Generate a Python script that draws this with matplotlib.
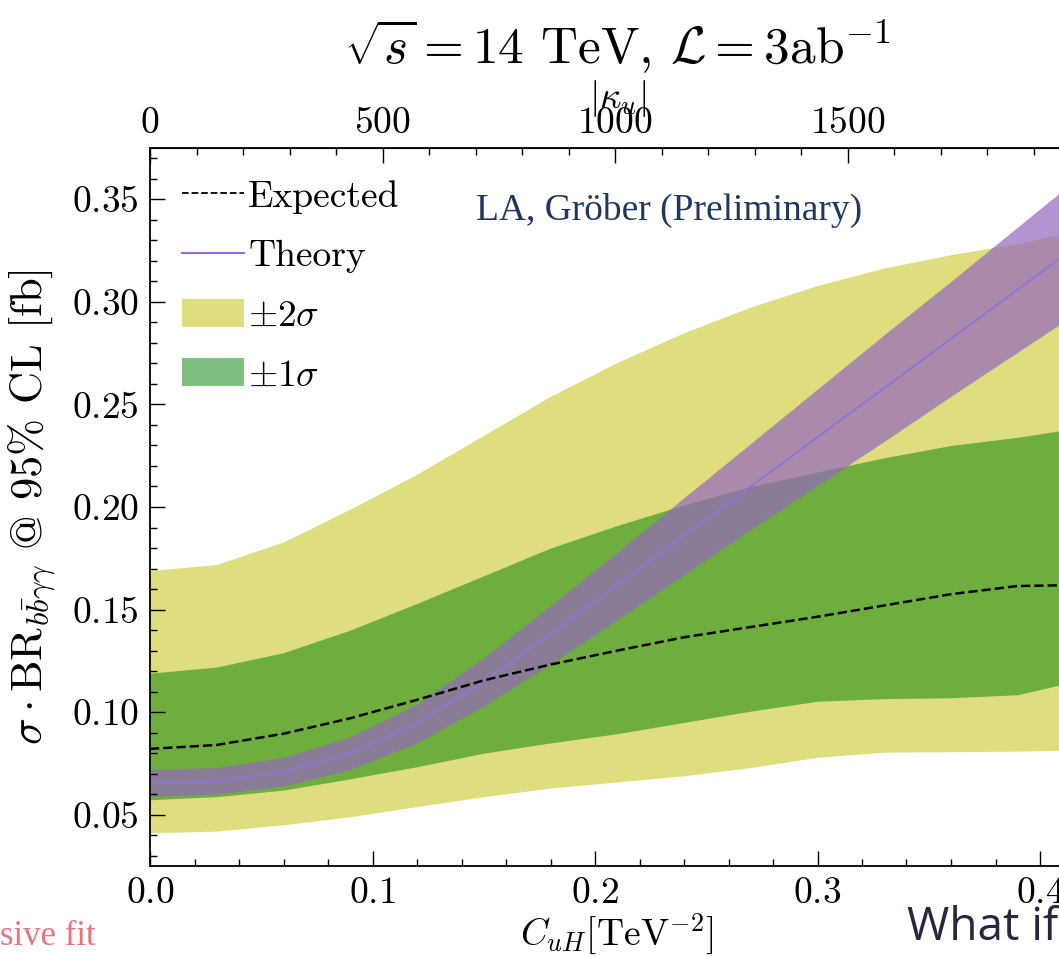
import numpy as np
import matplotlib
matplotlib.use('Agg')
import matplotlib.pyplot as plt
from matplotlib.patches import Patch
from matplotlib.lines import Line2D
from matplotlib.ticker import MultipleLocator, FixedLocator

# Wilson coefficient grid
c_uh = [0.00, 0.03, 0.06, 0.09, 0.12, 0.15, 0.18, 0.21, 0.24, 0.27, 0.30, 0.33, 0.36, 0.39, 0.42]

# Expected limit and bands
expected = [0.0821, 0.0840, 0.0895, 0.0970, 0.1060, 0.1155, 0.1232, 0.1300, 0.1365, 0.1415,
            0.1465, 0.1520, 0.1575, 0.1615, 0.1620]
one_sig_lo = [0.0573, 0.0588, 0.0620, 0.0675, 0.0734, 0.0800, 0.0850, 0.0895, 0.0950, 0.1005,
              0.1053, 0.1066, 0.1070, 0.1085, 0.1160]
one_sig_hi = [0.1190, 0.1220, 0.1290, 0.1400, 0.1530, 0.1665, 0.1800, 0.1910, 0.2010, 0.2100,
              0.2170, 0.2240, 0.2300, 0.2340, 0.2390]
two_sig_lo = [0.0412, 0.0420, 0.0451, 0.0490, 0.0540, 0.0588, 0.0630, 0.0660, 0.0690, 0.0730,
              0.0780, 0.0805, 0.0807, 0.0810, 0.0815]
two_sig_hi = [0.1690, 0.1720, 0.1830, 0.1990, 0.2160, 0.2350, 0.2540, 0.2705, 0.2850, 0.2975,
              0.3080, 0.3165, 0.3230, 0.3285, 0.3355]

# Theory prediction with its uncertainty
theory = [0.0655, 0.0665, 0.0710, 0.0800, 0.0945, 0.1150, 0.1380, 0.1620, 0.1860, 0.2100,
          0.2340, 0.2580, 0.2820, 0.3060, 0.3300]
theory_lo = [0.0590, 0.0600, 0.0640, 0.0720, 0.0850, 0.1030, 0.1235, 0.1450, 0.1670, 0.1890,
             0.2105, 0.2320, 0.2540, 0.2755, 0.2970]
theory_hi = [0.0720, 0.0730, 0.0780, 0.0880, 0.1040, 0.1265, 0.1520, 0.1780, 0.2045, 0.2310,
             0.2575, 0.2840, 0.3100, 0.3365, 0.3630]

kappa_ticks = [0, 500, 1000, 1500]

# |kappa_u| = v^3 C / (sqrt2 m_u), v and m_u in TeV
v_ev = 0.246
m_u = 2.2e-6
kfac = v_ev**3 / (np.sqrt(2) * m_u)

plt.rcParams['font.family'] = ['cmr10', 'DejaVu Serif']
plt.rcParams['mathtext.fontset'] = 'cm'
plt.rcParams['axes.formatter.use_mathtext'] = True
plt.rcParams['font.size'] = 27
plt.rcParams['axes.unicode_minus'] = False

W, H = 1059, 956
fig = plt.figure(figsize=(W / 100, H / 100), dpi=100)
# axes run past the right edge of the picture
ax = fig.add_axes([150 / W, 1 - 866 / H, 934.5 / W, 718 / H])

ax.fill_between(c_uh, two_sig_lo, two_sig_hi, color='y', alpha=0.5, lw=0)
ax.fill_between(c_uh, one_sig_lo, one_sig_hi, color='green', alpha=0.5, lw=0)
ax.fill_between(c_uh, theory_lo, theory_hi, color='tab:purple', alpha=0.7, lw=0)
ax.plot(c_uh, theory, color='mediumpurple', lw=1.3)
ax.plot(c_uh, expected, color='black', ls='--', lw=1.8)

ax.set_xlim(0, 0.42)
ax.set_ylim(0.025, 0.375)
ax.xaxis.set_major_locator(MultipleLocator(0.1))
ax.xaxis.set_minor_locator(MultipleLocator(0.02))
ax.yaxis.set_major_locator(MultipleLocator(0.05))
ax.yaxis.set_minor_locator(MultipleLocator(0.01))
ax.tick_params(which='both', direction='in', top=False, right=True, width=1)
ax.tick_params(which='major', length=11, pad=8)
ax.tick_params(which='minor', length=5)
for sp in ax.spines.values():
    sp.set_linewidth(1.3)

ax.set_xlabel(r'$C_{uH}[\mathrm{TeV}^{-2}]$', labelpad=1)
ax.set_ylabel(r'$\sigma\cdot\mathrm{BR}_{b\bar{b}\gamma\gamma}$ @ 95% CL [fb]', fontsize=32, labelpad=10)

sec = ax.secondary_xaxis('top', functions=(lambda c: c * kfac, lambda k: k / kfac))
sec.xaxis.set_major_locator(FixedLocator(kappa_ticks))
sec.xaxis.set_minor_locator(MultipleLocator(100))
sec.tick_params(which='both', direction='in', width=1)
sec.tick_params(which='major', length=11, pad=6)
sec.tick_params(which='minor', length=5)
sec.set_xlabel(r'$|\kappa_u|$')
sec.xaxis.label.set_va('center')
sec.xaxis.set_label_coords(0.5, 1.069, transform=ax.transAxes)

ax.set_title(r'$\sqrt{s}=14$ TeV, $\mathcal{L}=3\mathrm{ab}^{-1}$', fontsize=37, y=1.118, pad=0)

handles = [
    Line2D([], [], color='black', ls='--', lw=1.3),
    Line2D([], [], color='mediumpurple', lw=1.5),
    Patch(facecolor='y', alpha=0.5, lw=0),
    Patch(facecolor='green', alpha=0.5, lw=0),
]
labels = ['Expected', 'Theory', r'$\pm2\sigma$', r'$\pm1\sigma$']
ax.legend(handles, labels, loc='upper left', frameon=False, handlelength=1.65, handleheight=0.77,
          handletextpad=0.12, labelspacing=0.68, borderaxespad=0.4, borderpad=0.45)

# slide overlays
fig.text(669 / W, 1 - 210 / H, 'LA, Gröber (Preliminary)', family=['Liberation Serif', 'DejaVu Serif'],
         fontsize=27, color='#22375e', ha='center', va='center')
fig.text(0, 1 - 945 / H, 'sive fit', family=['Liberation Serif', 'DejaVu Serif'],
         fontsize=25, color='#e8737f', ha='left', va='baseline')
fig.text(907 / W, 1 - 940 / H, 'What if', family=['Open Sans', 'DejaVu Sans'],
         fontsize=33, color='#2a2640', ha='left', va='baseline')

fig.savefig('out.png', dpi=100)
